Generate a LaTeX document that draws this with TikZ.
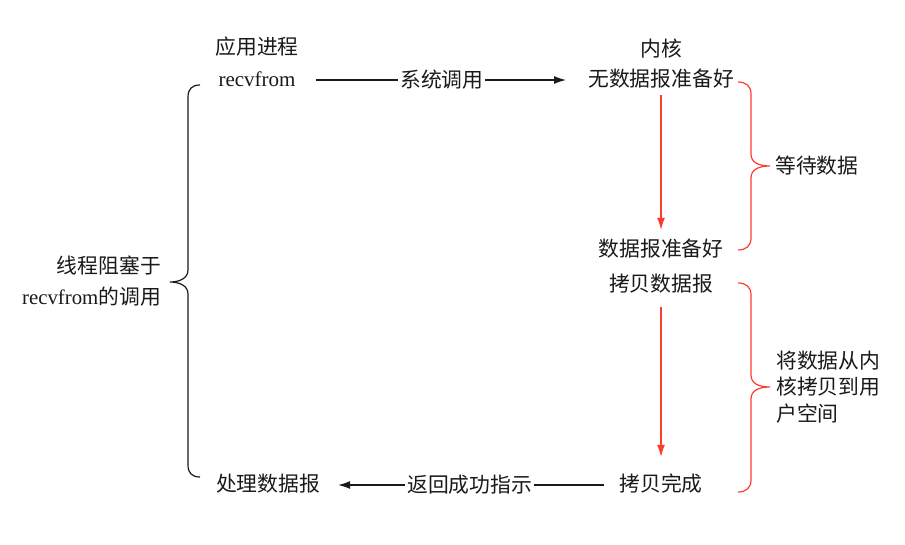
\documentclass[tikz,border=0pt]{standalone}
\usepackage{fontspec}
\setmainfont{Liberation Serif}
\newfontfamily\cjk{Noto Sans CJK SC}
\usetikzlibrary{arrows.meta}
\definecolor{redline}{HTML}{FF3B30}
\definecolor{ink}{HTML}{1A1A1A}
\begin{document}
\begin{tikzpicture}[x=1pt,y=-1pt,
  txt/.style={font=\cjk\fontsize{20.8}{24}\selectfont, text=ink, inner sep=0pt, text height=16pt, text depth=3pt},
  ser/.style={font=\fontsize{21}{24}\selectfont, text=ink, inner sep=0pt, text height=16pt, text depth=3pt},
  lbl/.style={font=\cjk\fontsize{20.8}{24}\selectfont, text=ink, fill=white, inner xsep=2pt, inner ysep=0pt},
  blk/.style={draw=ink, line width=1.2pt},
  redc/.style={draw=redline, line width=1.2pt},
  tipk/.style={-{Latex[length=12pt,width=8pt]}}]
\useasboundingbox (0,0) rectangle (905,544);
\fill[white] (0,0) rectangle (905,544);

% nodes
\node[txt] (app) at (257,48) {应用进程};
\node[ser] (recv) at (257,80) {recvfrom};
\node[txt] (kern) at (661,50) {内核};
\node[txt] (nodata) at (661,80) {无数据报准备好};
\node[txt] (ready) at (661,250) {数据报准备好};
\node[txt] (copy) at (661,285) {拷贝数据报};
\node[txt] (done) at (661,485) {拷贝完成};
\node[txt] (proc) at (268,485) {处理数据报};

\node[font=\cjk\fontsize{20.8}{31}\selectfont, text=ink, align=right, anchor=east, inner sep=0pt] (block) at (161,281)
  {线程阻塞于\\{\fontspec{Liberation Serif}recvfrom}的调用};
\node[font=\cjk\fontsize{20.8}{24}\selectfont, text=ink, anchor=west, inner sep=0pt] (wait) at (775,166) {等待数据};
\node[font=\cjk\fontsize{20.8}{26.5}\selectfont, text=ink, align=left, anchor=west, inner sep=0pt] (copyk) at (776,387)
  {将数据从内\\核拷贝到用\\户空间};

% connectors
\draw[blk,tipk,shorten <=20pt,shorten >=22pt] (recv) -- node[lbl,midway] (sys) {系统调用} (nodata);
\draw[blk,tipk,shorten <=15pt,shorten >=18pt] (done) -- node[lbl,midway] (ret) {返回成功指示} (proc);
\draw[redc,tipk,shorten <=5.5pt,shorten >=10.5pt] (nodata) -- (ready);
\draw[redc,tipk,shorten <=12.5pt,shorten >=18.5pt] (copy) -- (done);

% braces
\draw[blk] (200,85) .. controls (192,85) and (188,89) .. (188,97) -- (188,270)
  .. controls (188,278) and (180,282) .. (170,282)
  .. controls (180,282) and (188,286) .. (188,294) -- (188,465)
  .. controls (188,473) and (192,477) .. (200,477);
\draw[redc] (738,82) .. controls (746,82) and (751,86) .. (751,94) -- (751,154)
  .. controls (751,162) and (758,166) .. (770,166)
  .. controls (758,166) and (751,170) .. (751,178) -- (751,238)
  .. controls (751,246) and (746,250) .. (738,250);
\draw[redc] (738,283) .. controls (746,283) and (751,287) .. (751,295) -- (751,375)
  .. controls (751,383) and (758,387) .. (770,387)
  .. controls (758,387) and (751,391) .. (751,399) -- (751,480)
  .. controls (751,488) and (746,492) .. (738,492);
\end{tikzpicture}
\end{document}
